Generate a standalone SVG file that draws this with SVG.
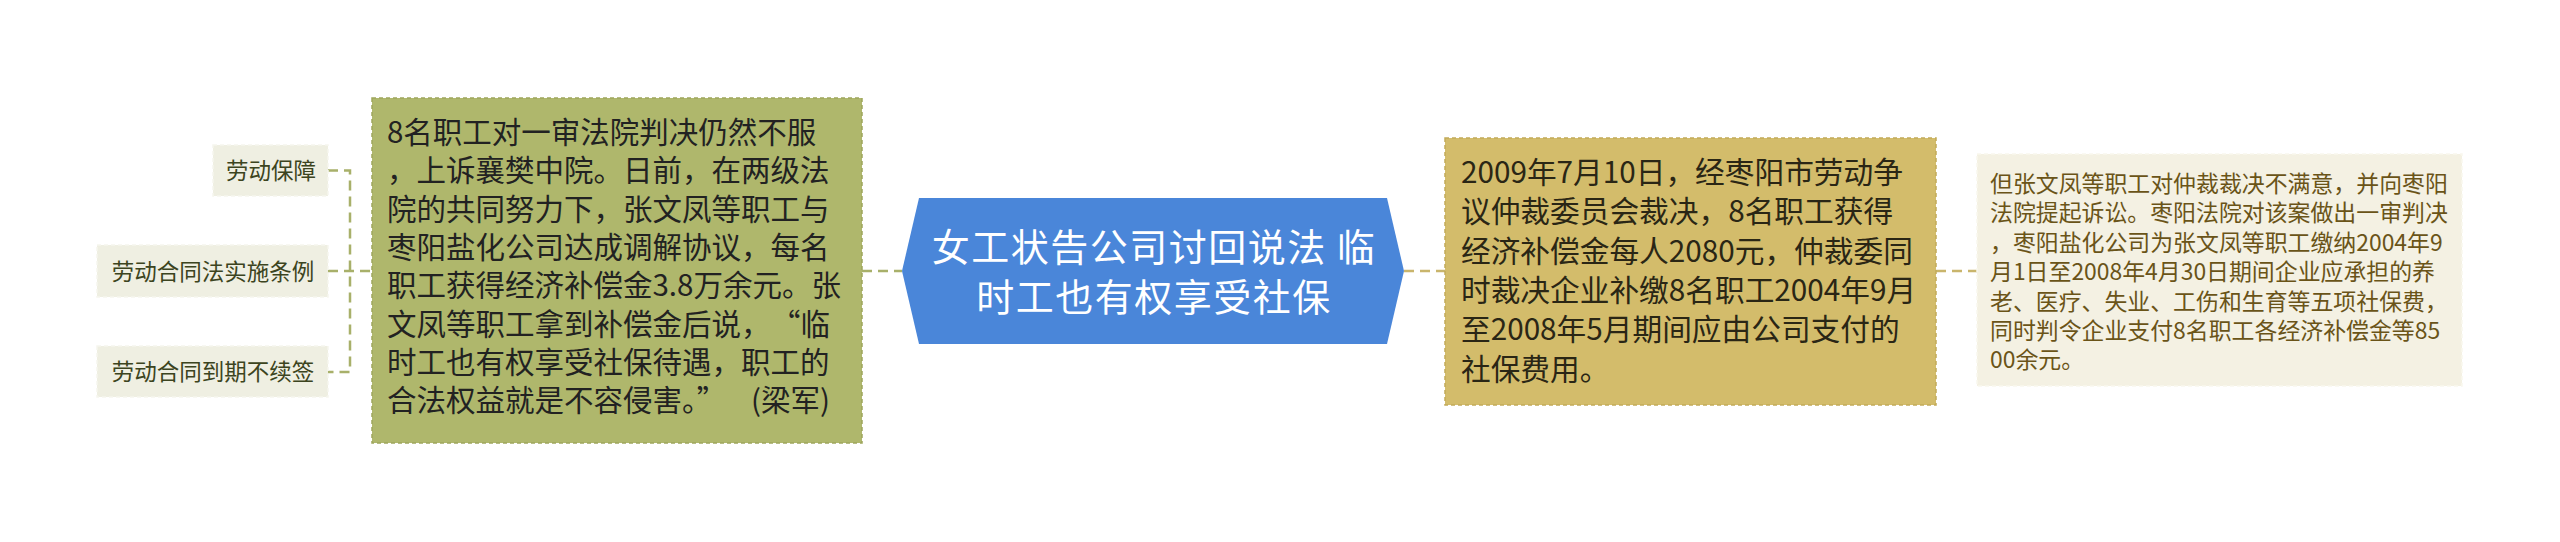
<svg xmlns="http://www.w3.org/2000/svg" width="2560" height="542" viewBox="0 0 2560 542">
<style>
text{font-family:"Noto Sans CJK SC","Noto Sans",sans-serif;}
.leaf{fill:#efefe2;stroke:#f6f6ee;stroke-width:1.5;stroke-dasharray:4 3;}
.leaft{font-size:22.5px;fill:#3c4420;text-anchor:middle;}
.green{fill:#afb76c;stroke:#9ea65c;stroke-width:1.5;stroke-dasharray:4 3;}
.yellow{fill:#d3bc6b;stroke:#c2ab5a;stroke-width:1.5;stroke-dasharray:4 3;}
.light{fill:#f4f1e3;stroke:#f9f7ee;stroke-width:1.5;stroke-dasharray:4 3;}
.gt{font-size:29.5px;fill:#222;}
.yt{font-size:29.7px;fill:#2a2615;}
.lt{font-size:22.9px;fill:#6a5418;}
.ct{font-size:38px;letter-spacing:1.5px;fill:#fff;text-anchor:middle;}
.cg{fill:none;stroke:#a8b06a;stroke-width:2.5;stroke-dasharray:10 6;}
.cy{fill:none;stroke:#c9b56c;stroke-width:2.5;stroke-dasharray:10 6;}
</style>
<rect width="2560" height="542" fill="#fff"/>
<g id="connectors">
<path class="cg" d="M328 170.5 H350 V372 H328"/>
<path class="cg" d="M328 271 H371"/>
<path class="cg" d="M862 271 H902"/>
<path class="cy" d="M1404 271 H1445"/>
<path class="cy" d="M1936 271 H1977"/>
</g>
<g id="leaf1">
<rect class="leaf" x="213" y="145" width="115" height="51"/>
<text class="leaft" x="271" y="179">劳动保障</text>
</g>
<g id="leaf2">
<rect class="leaf" x="97" y="245" width="231" height="52"/>
<text class="leaft" x="213" y="280">劳动合同法实施条例</text>
</g>
<g id="leaf3">
<rect class="leaf" x="97" y="346" width="231" height="51"/>
<text class="leaft" x="213" y="380">劳动合同到期不续签</text>
</g>
<g id="green">
<rect class="green" x="372" y="98" width="490" height="345"/>
<text class="gt">
<tspan x="387" y="143">8名职工对一审法院判决仍然不服</tspan>
<tspan x="387" y="181.3">，上诉襄樊中院。日前，在两级法</tspan>
<tspan x="387" y="219.6">院的共同努力下，张文凤等职工与</tspan>
<tspan x="387" y="257.9">枣阳盐化公司达成调解协议，每名</tspan>
<tspan x="387" y="296.2">职工获得经济补偿金3.8万余元。张</tspan>
<tspan x="387" y="334.5">文凤等职工拿到补偿金后说，</tspan>
<tspan x="387" y="372.8">时工也有权享受社保待遇，职工的</tspan>
<tspan x="387" y="411.1">合法权益就是不容侵害。”</tspan>
</text>
<text class="gt" text-anchor="end"><tspan x="830" y="334.5">“临</tspan><tspan x="830" y="411.1">(梁军)</tspan></text>
</g>
<g id="center">
<polygon points="902,271 919,198 1387,198 1404,271 1387,344 919,344" fill="#4a86d9"/>
<text class="ct"><tspan x="1154" y="261">女工状告公司讨回说法 临</tspan><tspan x="1154" y="311">时工也有权享受社保</tspan></text>
</g>
<g id="yellow">
<rect class="yellow" x="1445" y="138" width="491" height="267"/>
<text class="yt">
<tspan x="1461" y="183">2009年7月10日，经枣阳市劳动争</tspan>
<tspan x="1461" y="222.3">议仲裁委员会裁决，8名职工获得</tspan>
<tspan x="1461" y="261.6">经济补偿金每人2080元，仲裁委同</tspan>
<tspan x="1461" y="300.9">时裁决企业补缴8名职工2004年9月</tspan>
<tspan x="1461" y="340.2">至2008年5月期间应由公司支付的</tspan>
<tspan x="1461" y="379.5">社保费用。</tspan>
</text>
</g>
<g id="light">
<rect class="light" x="1977" y="154" width="485" height="232"/>
<text class="lt">
<tspan x="1990" y="192">但张文凤等职工对仲裁裁决不满意，并向枣阳</tspan>
<tspan x="1990" y="221.4">法院提起诉讼。枣阳法院对该案做出一审判决</tspan>
<tspan x="1990" y="250.8">，枣阳盐化公司为张文凤等职工缴纳2004年9</tspan>
<tspan x="1990" y="280.2">月1日至2008年4月30日期间企业应承担的养</tspan>
<tspan x="1990" y="309.6">老、医疗、失业、工伤和生育等五项社保费，</tspan>
<tspan x="1990" y="339">同时判令企业支付8名职工各经济补偿金等85</tspan>
<tspan x="1990" y="368.4">00余元。</tspan>
</text>
</g>
</svg>
